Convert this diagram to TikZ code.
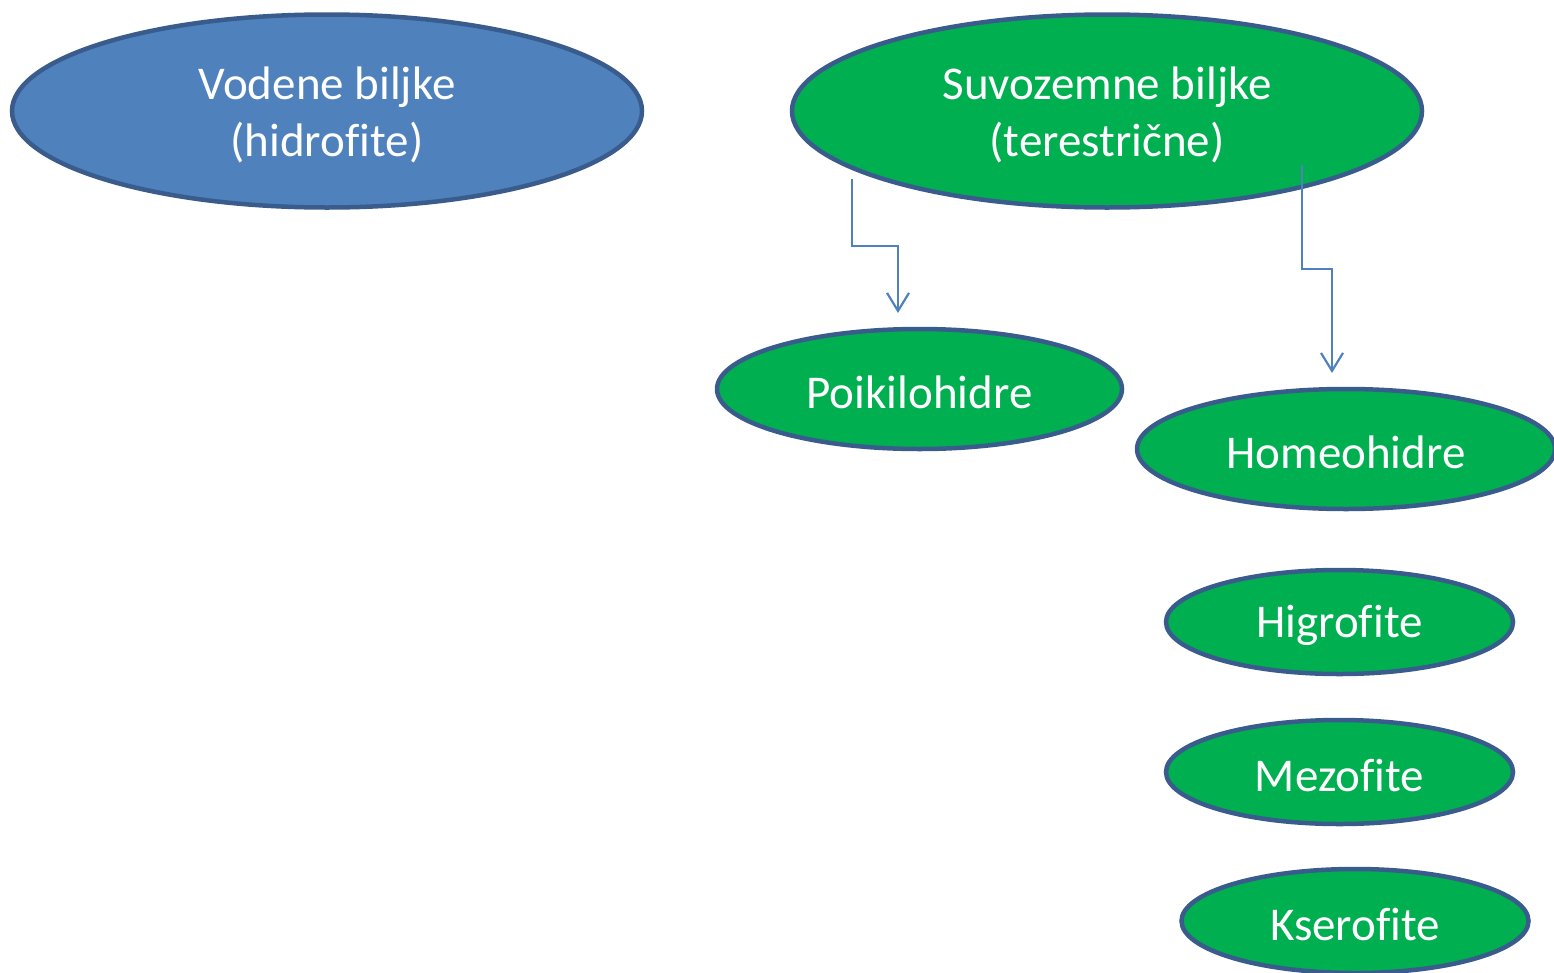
\documentclass[tikz,border=0pt]{standalone}
\usepackage{fontspec}
\setmainfont{Carlito}[Ligatures=NoCommon]
\usetikzlibrary{shapes.geometric,arrows.meta,calc}
\definecolor{bluefill}{HTML}{4F81BD}
\definecolor{greenfill}{HTML}{00B050}
\definecolor{edgeblue}{HTML}{3A5C8C}
\newcommand\lowtext[1]{\raisebox{-3.5pt}[\height][\depth]{#1}}
\tikzset{
  oval/.style={ellipse, draw=edgeblue, line width=4.5pt, text=white, inner sep=0pt,
    align=center, font=\fontsize{47}{57}\selectfont},
  conn/.style={draw=bluefill, line width=2.2pt, -{Straight Barb[length=18pt,width=22pt]}},
}
\begin{document}
\begin{tikzpicture}[x=1pt,y=-1pt]
\useasboundingbox (0,0) rectangle (1554,972);
\node[oval, fill=bluefill, minimum width=630pt, minimum height=193pt] (vod) at (327,111) {\lowtext{Vodene biljke}\\\lowtext{(hidrofite)}};
\node[oval, fill=greenfill, minimum width=630pt, minimum height=193pt] (suv) at (1107,111) {\lowtext{Suvozemne biljke}\\\lowtext{(terestrične)}};
\node[oval, fill=greenfill, minimum width=405pt, minimum height=120pt] (poi) at (919.5,389) {\lowtext{Poikilohidre}};
\node[oval, fill=greenfill, minimum width=418pt, minimum height=120pt] (hom) at (1346,449) {\lowtext{Homeohidre}};
\node[oval, fill=greenfill, minimum width=347pt, minimum height=104pt] (hig) at (1339.5,622) {\lowtext{Higrofite}};
\node[oval, fill=greenfill, minimum width=347pt, minimum height=104pt] (mez) at (1339.5,772) {\lowtext{Mezofite}};
\node[oval, fill=greenfill, minimum width=347pt, minimum height=104pt] (kse) at (1355,921) {\lowtext{Kserofite}};
\coordinate (s1) at (852,179);
\coordinate (e1) at (898,313);
\coordinate (s2) at (1302,165);
\coordinate (e2) at (1332,373);
\draw[conn] (s1) |- ($(s1)!.5!(e1)$) -| (e1);
\draw[conn] (s2) |- ($(s2)!.5!(e2)$) -| (e2);
\end{tikzpicture}
\end{document}
